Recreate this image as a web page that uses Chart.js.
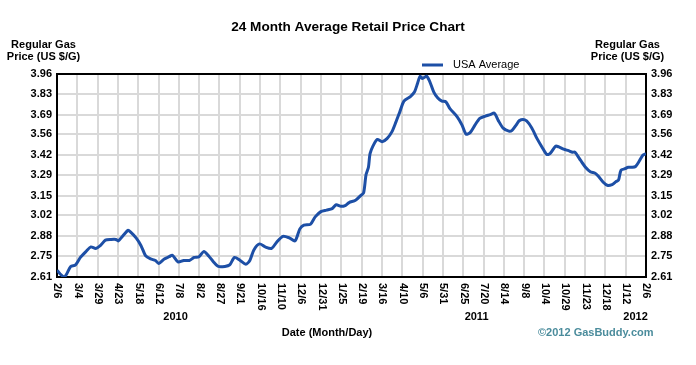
<!DOCTYPE html>
<html><head><meta charset="utf-8">
<script src="https://cdn.jsdelivr.net/npm/chart.js@4.4.1/dist/chart.umd.min.js"></script>
<style>html,body{margin:0;padding:0;background:#fff;}#wrap{width:696px;height:365px;}</style>
</head><body><div id="wrap"><canvas id="c" width="696" height="365"></canvas></div>
<script>
// ---- data ----
const tickLabels = ['2/6','3/4','3/29','4/23','5/18','6/12','7/8','8/2','8/27','9/21','10/16','11/10','12/6','12/31','1/25','2/19','3/16','4/10','5/6','5/31','6/25','7/20','8/14','9/8','10/4','10/29','11/23','12/18','1/12','2/6'];
const yTicks = [2.61, 2.75, 2.88, 3.02, 3.15, 3.29, 3.42, 3.56, 3.69, 3.83, 3.96];
const yearLabels = ['2010', '2011', '2012'];
const yearDays = [147, 520, 717];
const totalDays = 730; // 2/6/2010 .. 2/6/2012
// days since 2/6/2010
const days = [0,4,9,12,17,23,29,36,42,48,54,60,67,73,76,81,88,91,98,104,110,116,122,126,133,139,143,150,157,164,170,176,182,188,194,200,208,214,220,227,234,239,244,251,258,266,272,280,288,295,301,306,314,320,327,334,341,346,352,357,362,370,376,380,383,386,388,392,397,403,409,415,420,425,430,438,443,447,450,453,458,462,467,472,477,482,487,496,502,507,512,518,524,531,537,542,547,553,560,564,569,573,580,585,590,595,601,607,611,618,622,628,634,639,642,649,655,661,667,671,677,682,688,693,696,699,704,708,713,717,721,726,730];
const prices = [2.655,2.63,2.61,2.63,2.68,2.69,2.74,2.78,2.81,2.80,2.82,2.855,2.86,2.86,2.85,2.88,2.92,2.91,2.87,2.82,2.75,2.73,2.72,2.70,2.73,2.745,2.755,2.71,2.72,2.72,2.74,2.745,2.78,2.75,2.71,2.68,2.68,2.69,2.74,2.72,2.695,2.72,2.79,2.83,2.81,2.80,2.84,2.88,2.87,2.85,2.93,2.955,2.96,3.01,3.045,3.055,3.065,3.09,3.08,3.085,3.105,3.12,3.15,3.17,3.29,3.34,3.43,3.485,3.525,3.51,3.53,3.575,3.64,3.71,3.78,3.81,3.84,3.90,3.945,3.93,3.945,3.91,3.84,3.80,3.78,3.775,3.73,3.675,3.62,3.56,3.57,3.62,3.665,3.68,3.69,3.70,3.65,3.60,3.58,3.585,3.62,3.65,3.655,3.63,3.585,3.53,3.475,3.425,3.43,3.48,3.475,3.46,3.45,3.44,3.44,3.385,3.34,3.31,3.30,3.28,3.24,3.22,3.225,3.245,3.255,3.32,3.33,3.34,3.34,3.345,3.375,3.42,3.43];
const seriesName = 'USA Average';

// ---- drawing ----
const FONT = "'Liberation Sans', Arial, Helvetica, sans-serif";
const LINE = '#1d4fa6';
const GRID = '#d9d9d9';

const extras = {
  id: 'extras',
  beforeDatasetsDraw(chart) {
    const {ctx, chartArea: a} = chart;
    ctx.save();
    ctx.strokeStyle = '#000';
    ctx.lineWidth = 2;
    ctx.strokeRect(a.left, a.top, a.right - a.left, a.bottom - a.top);
    ctx.restore();
  },
  afterDraw(chart) {
    const {ctx} = chart;
    const xs = chart.scales.x;
    ctx.save();
    ctx.fillStyle = '#000';
    ctx.font = 'bold 11px ' + FONT;
    ctx.textBaseline = 'middle';
    ctx.textAlign = 'center';
    // axis titles
    ctx.fillText('Regular Gas', 43.5, 45);
    ctx.fillText('Price (US $/G)', 43.5, 57);
    ctx.fillText('Regular Gas', 627.5, 45);
    ctx.fillText('Price (US $/G)', 627.5, 57);
    // legend
    ctx.strokeStyle = LINE;
    ctx.lineWidth = 3;
    ctx.beginPath(); ctx.moveTo(422, 65); ctx.lineTo(443, 65); ctx.stroke();
    ctx.font = '11px ' + FONT;
    ctx.textAlign = 'left';
    ctx.fillText(seriesName, 453, 64.5);
    // rotated tick labels
    ctx.font = 'bold 11px ' + FONT;
    tickLabels.forEach((lab, k) => {
      const x = xs.getPixelForValue(k * totalDays / (tickLabels.length - 1));
      ctx.save();
      ctx.translate(x + 0.5, 283);
      ctx.rotate(Math.PI / 2);
      ctx.textAlign = 'left';
      ctx.textBaseline = 'middle';
      ctx.fillText(lab, 0, 0);
      ctx.restore();
    });
    // years
    ctx.textAlign = 'center';
    yearLabels.forEach((y, i) => ctx.fillText(y, xs.getPixelForValue(yearDays[i]), 317));
    ctx.fillText('Date (Month/Day)', 327, 333);
    ctx.fillStyle = '#4b8c9c';
    ctx.textAlign = 'left';
    ctx.fillText('\u00A92012 GasBuddy.com', 538, 333);
    ctx.restore();
  }
};

const yAxis = (pos, width, grid) => ({
  type: 'linear', position: pos, min: yTicks[0], max: yTicks[yTicks.length - 1],
  afterBuildTicks: s => { s.ticks = yTicks.map(v => ({value: v})); },
  afterFit: s => { s.width = width; },
  ticks: { callback: v => v.toFixed(2), color: '#000', font: {family: FONT, size: 11, weight: 'bold'}, padding: 5 },
  grid: { display: grid, drawOnChartArea: grid, color: GRID, lineWidth: 2, drawTicks: false },
  border: { display: true, color: '#000', width: 2 }
});

new Chart(document.getElementById('c'), {
  type: 'line',
  data: { datasets: [{
    label: seriesName,
    data: days.map((d, i) => ({x: d, y: prices[i]})),
    borderColor: LINE, borderWidth: 3, pointRadius: 0, tension: 0.25, fill: false
  }]},
  options: {
    responsive: false, animation: false, devicePixelRatio: 1,
    layout: { padding: {left: 0, right: 0, top: 0, bottom: 0} },
    plugins: {
      legend: { display: false },
      tooltip: { enabled: false },
      title: { display: true, text: '24 Month Average Retail Price Chart', color: '#000',
        font: {family: FONT, size: 13.6, weight: 'bold'}, padding: {top: 19, bottom: 38.68} }
    },
    scales: {
      x: {
        type: 'linear', min: 0, max: totalDays,
        afterBuildTicks: s => { s.ticks = tickLabels.map((_, k) => ({value: k * totalDays / (tickLabels.length - 1)})); },
        afterFit: s => { s.height = 88; },
        ticks: { display: false },
        grid: { color: GRID, lineWidth: 2, drawTicks: false },
        border: { display: true, color: '#000', width: 2 }
      },
      y: yAxis('left', 57, true),
      y2: yAxis('right', 50, false)
    }
  },
  plugins: [extras]
});
</script></body></html>
